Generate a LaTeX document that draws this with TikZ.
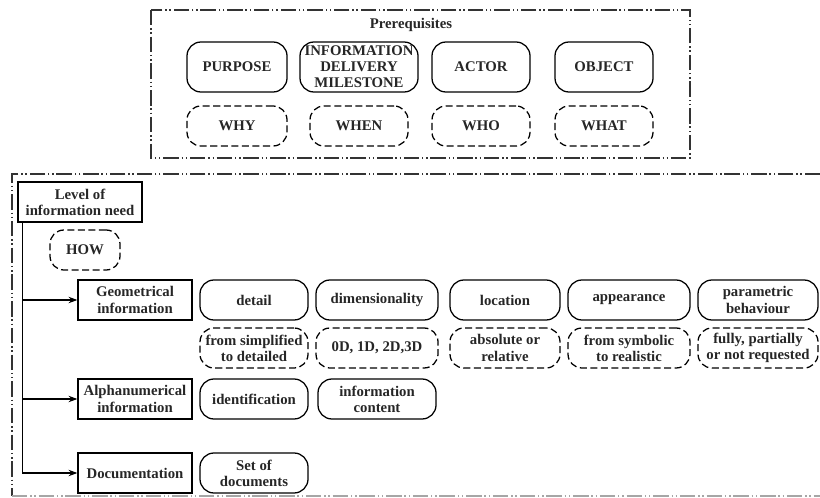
\documentclass[tikz,border=0pt]{standalone}
\usepackage{fontspec}
\setmainfont{Liberation Serif}
\usepackage{tikz}
\usetikzlibrary{positioning,arrows.meta,calc}
\tikzset{
  txt/.style={font=\fontsize{10.5}{11.5}\selectfont\bfseries, text=black!85},
  pill/.style={txt, draw, line width=0.9pt, rounded corners=0.35cm, align=center,
               minimum height=1cm, inner sep=1pt},
  dpill/.style={pill, dash pattern=on 5pt off 2.5pt},
  rbox/.style={txt, draw, line width=0.9pt, align=center, minimum height=1cm,
               inner sep=1pt},
  frame/.style={line width=0.9pt, black!80,
                dash pattern=on 11pt off 2pt on 1pt off 2pt on 1pt off 2pt},
  branch/.style={-{Stealth[length=2.2mm, width=1.6mm]}, line width=0.8pt}
}

\begin{document}
\begin{tikzpicture}[x=0.025cm, y=-0.025cm]
    \useasboundingbox (0,0) rectangle (820,498);
    % prerequisites
    \draw[frame] (151,10) rectangle (690,158);
    \node[txt] (pre) at (411,25) {Prerequisites};
    \node[pill, minimum width=2.5cm, minimum height=1.25cm] (purpose) at (237,67) {PURPOSE};
    \node[pill, minimum width=2.95cm, minimum height=1.25cm] (idm) at (359,67) {INFORMATION\\DELIVERY\\MILESTONE};
    \node[pill, minimum width=2.45cm, minimum height=1.25cm] (actor) at (481,67) {ACTOR};
    \node[pill, minimum width=2.45cm, minimum height=1.25cm] (object) at (604,67) {OBJECT};
    \node[dpill, minimum width=2.5cm] (why) at (237,126) {WHY};
    \node[dpill, minimum width=2.45cm] (when) at (359,126) {WHEN};
    \node[dpill, minimum width=2.45cm] (who) at (481,126) {WHO};
    \node[dpill, minimum width=2.45cm] (what) at (604,126) {WHAT};
    % level of information need
    \draw[frame] (820,174) -- (12,174) -- (12,496);
    \draw[frame, black!35] (12,496) -- (820,496);
    \node[rbox, minimum width=3.1cm] (loin) at (80,202) {Level of\\information need};
    \node[dpill, minimum width=1.75cm] (how) at (85,250) {HOW};
    \node[rbox, minimum width=2.85cm] (geo) at (135,300) {Geometrical\\information};
    \node[rbox, minimum width=2.85cm] (alpha) at (135,399) {Alphanumerical\\information};
    \node[rbox, minimum width=2.85cm] (doc) at (135,473) {Documentation};
    \coordinate (trunk) at ($(loin.south west)+(5,0)$);
    \draw[branch] (trunk) |- (doc);
    \draw[branch] (trunk |- geo) -- (geo);
    \draw[branch] (trunk |- alpha) -- (alpha);
    % geometrical
    \node[pill, minimum width=2.7cm] (detail) at (254,300) {detail};
    \node[pill, minimum width=3.05cm] (dim) at (377,300) {dimensionality};
    \node[pill, minimum width=2.75cm] (loc) at (505,300) {location};
    \node[pill, minimum width=3.05cm] (app) at (629,300) {appearance};
    \node[pill, minimum width=3.0cm] (param) at (758,300) {parametric\\behaviour};
    \node[dpill, minimum width=2.7cm] (detailv) at (254,348) {from simplified\\to detailed};
    \node[dpill, minimum width=3.05cm] (dimv) at (377,348) {0D, 1D, 2D,3D};
    \node[dpill, minimum width=2.75cm] (locv) at (505,348) {absolute or\\relative};
    \node[dpill, minimum width=3.05cm] (appv) at (629,348) {from symbolic\\to realistic};
    \node[dpill, minimum width=3.0cm] (paramv) at (758,348) {fully, partially\\or not requested};
    % alphanumerical and documentation
    \node[pill, minimum width=2.7cm] (ident) at (254,399) {identification};
    \node[pill, minimum width=2.95cm] (content) at (377,399) {information\\content};
    \node[pill, minimum width=2.7cm] (docs) at (254,473) {Set of\\documents};
  \end{tikzpicture}
\end{document}
